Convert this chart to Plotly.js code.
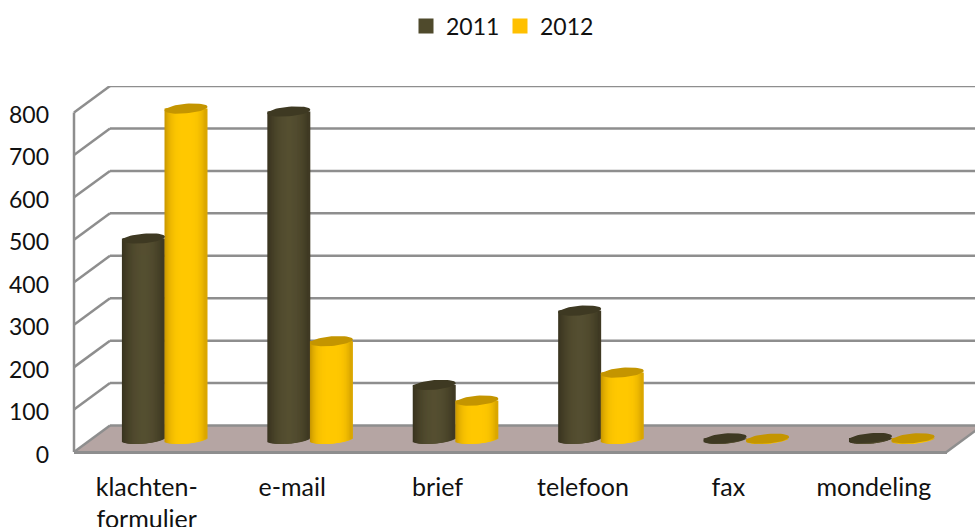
<!DOCTYPE html>
<html>
<head>
<meta charset="utf-8">
<script src="https://cdn.plot.ly/plotly-3.0.1.min.js"></script>
<style>html,body{margin:0;padding:0;background:#fff;overflow:hidden}#chart{width:975px;height:527px}</style>
</head>
<body>
<div id="chart"></div>
<script>
// Complaints per channel, 2011 and 2012
const categories = ['klachten-<br>formulier', 'e-mail', 'brief', 'telefoon', 'fax', 'mondeling'];
const years = ['2011', '2012'];
const values2011 = [472, 771, 127, 302, 1, 2];
const values2012 = [778, 230, 90, 156, 0, 1];
const yTicks = [0, 100, 200, 300, 400, 500, 600, 700, 800];

// Box geometry in pixels; the plot area runs a little below the front edge of the floor
const W = 975, H = 527, LEFT = 74, BOTTOM = 452.5, TOP = 86, BELOW = 12;
const FRONT_W = 872.5, DEPTH_X = 36, DEPTH_Y = 26.5;
const PX_PER_UNIT = 0.425;
const plotW = W - LEFT, plotH = BOTTOM + BELOW - TOP;
const UNITS_PER_PX_X = 6 / FRONT_W, UNITS_PER_PX_Y = 1 / PX_PER_UNIT;
const ySpan = plotH * UNITS_PER_PX_Y;
const backShift = DEPTH_Y * UNITS_PER_PX_Y;

// Cylinders stand halfway into the floor, so they get their own shifted axes
const midX = DEPTH_X / 2 * UNITS_PER_PX_X, midY = DEPTH_Y / 2 * UNITS_PER_PX_Y;

// Tick labels sit slightly below the level they name
const LABEL_DROP = 2.5;

const RADIUS = 21.5, ELL_B = 4.8, ELL_SHEAR = 0.085, SERIES_OFFSET = 21.3;
const SLICE_PX = 3, SLICES = 41;

function mix(a, b, t) {
  return 'rgb(' + a.map((v, i) => Math.round(v + (b[i] - v) * t)).join(',') + ')';
}

// Cylinder sides: narrow overlapping bars whose colour follows the curvature
function cylinderTrace(values, sign, edge, centre, power) {
  const x = [], y = [], base = [], width = [], color = [];
  const inner = (RADIUS - SLICE_PX / 2) / RADIUS;
  values.forEach((v, i) => {
    for (let k = 0; k < SLICES; k++) {
      const s = (k / (SLICES - 1) * 2 - 1) * inner;
      const dropPx = ELL_B * Math.sqrt(1 - s * s) - ELL_SHEAR * RADIUS * s;
      const b = -dropPx * UNITS_PER_PX_Y;
      x.push(i + (sign * SERIES_OFFSET + s * RADIUS) * UNITS_PER_PX_X);
      base.push(b);
      y.push(v - b);
      width.push(SLICE_PX * UNITS_PER_PX_X);
      color.push(mix(edge, centre, 1 - Math.pow(Math.abs(s - 0.05), power)));
    }
  });
  return {type: 'bar', x, y, base, width, marker: {color, opacity: 1, line: {width: 0}},
          xaxis: 'x2', yaxis: 'y2', showlegend: false, hoverinfo: 'skip'};
}

// Cylinder caps: filled ellipses centred on each value
function capTrace(values, sign, fill) {
  const x = [], y = [];
  values.forEach((v, i) => {
    for (let k = 0; k <= 48; k++) {
      const t = k / 48 * 2 * Math.PI;
      const dx = RADIUS * Math.cos(t);
      x.push(i + (sign * SERIES_OFFSET + dx) * UNITS_PER_PX_X);
      y.push(v + (ELL_B * Math.sin(t) + ELL_SHEAR * dx) * UNITS_PER_PX_Y);
    }
    x.push(null); y.push(null);
  });
  return {type: 'scatter', mode: 'lines', x, y, fill: 'toself', fillcolor: fill,
          line: {width: 0, color: fill}, xaxis: 'x2', yaxis: 'y2',
          showlegend: false, hoverinfo: 'skip'};
}

function legendTrace(name, color) {
  return {type: 'scatter', mode: 'markers', name, x: [null], y: [null],
          marker: {symbol: 'square', size: 15, color}, hoverinfo: 'skip'};
}

const DARK_EDGE = [56, 51, 31], DARK_MID = [85, 79, 49];
const GOLD_EDGE = [198, 149, 0], GOLD_MID = [255, 200, 0];

const traces = [
  legendTrace(years[0], '#4F4A2C'),
  legendTrace(years[1], '#FFC000'),
  cylinderTrace(values2011, -1, DARK_EDGE, DARK_MID, 2),
  cylinderTrace(values2012, 1, GOLD_EDGE, GOLD_MID, 3.5),
  capTrace(values2011, -1, '#3E3922'),
  capTrace(values2012, 1, '#C49500')
];

// Back wall, side wall and floor of the box, placed on the cylinder axis
const GRID = {color: '#8E8E8E', width: 2.5};
const fx = FRONT_W / plotW, dx = DEPTH_X / plotW;
const front0 = -midY, back0 = backShift - midY;
const shapes = [{
  type: 'path', xref: 'paper', yref: 'y2', layer: 'below',
  path: `M0,${front0} L${fx},${front0} L${fx + dx},${back0} L${dx},${back0} Z`,
  fillcolor: '#B5A5A3', line: {width: 0}
}, {
  type: 'line', xref: 'paper', yref: 'y2', layer: 'below',
  x0: fx, y0: front0, x1: fx + dx, y1: back0, line: GRID
}, {
  type: 'line', xref: 'paper', yref: 'y2', layer: 'below',
  x0: 0, y0: front0, x1: 0, y1: yTicks[yTicks.length - 1] + front0, line: GRID
}];
yTicks.forEach(v => {
  shapes.push({type: 'line', xref: 'paper', yref: 'y2', layer: 'below',
    x0: dx, y0: v + back0, x1: fx + dx, y1: v + back0, line: GRID});
  shapes.push({type: 'line', xref: 'paper', yref: 'y2', layer: 'below',
    x0: 0, y0: v + front0, x1: dx, y1: v + back0, line: GRID});
});

const FONT = {family: 'Lato, "Open Sans", sans-serif', size: 23, color: '#111111'};
const CATEGORY_FONT = {family: FONT.family, size: 25, color: FONT.color};

const labelLow = -(BELOW - LABEL_DROP) * UNITS_PER_PX_Y;
const cylLow = -BELOW * UNITS_PER_PX_Y - midY;

const layout = {
  width: W, height: H,
  margin: {l: LEFT, r: 0, t: TOP, b: H - BOTTOM - BELOW, pad: 0, autoexpand: false},
  paper_bgcolor: '#ffffff', plot_bgcolor: 'rgba(0,0,0,0)',
  font: FONT,
  barmode: 'overlay',
  shapes,
  showlegend: true,
  legend: {orientation: 'h', xanchor: 'left', yanchor: 'middle',
           x: (412 - LEFT) / plotW, y: (BOTTOM + BELOW - 26) / plotH, indentation: -6,
           font: FONT, bgcolor: 'rgba(0,0,0,0)', itemclick: false, itemdoubleclick: false,
           entrywidth: 55, entrywidthmode: 'pixels'},
  xaxis: {type: 'linear', domain: [0, fx], range: [-0.5, 5.5], fixedrange: true,
          anchor: 'free', position: BELOW / plotH,
          tickmode: 'array', tickvals: categories.map((_, i) => i), ticktext: categories,
          showgrid: false, zeroline: false, showline: true, linecolor: '#8E8E8E', linewidth: 2.5,
          ticks: '', ticklabelstandoff: 12, tickfont: CATEGORY_FONT},
  yaxis: {range: [labelLow, labelLow + ySpan], domain: [0, 1], fixedrange: true,
          tickmode: 'array', tickvals: yTicks,
          showgrid: false, zeroline: false, showline: false,
          ticks: '', ticklabelstandoff: 24, tickfont: FONT},
  xaxis2: {type: 'linear', domain: [0, fx], range: [-0.5 - midX, 5.5 - midX],
           anchor: 'y2', visible: false, fixedrange: true},
  yaxis2: {range: [cylLow, cylLow + ySpan], domain: [0, 1], anchor: 'x2', visible: false, fixedrange: true}
};

Plotly.newPlot('chart', traces, layout, {displayModeBar: false, staticPlot: true});
</script>
</body>
</html>
